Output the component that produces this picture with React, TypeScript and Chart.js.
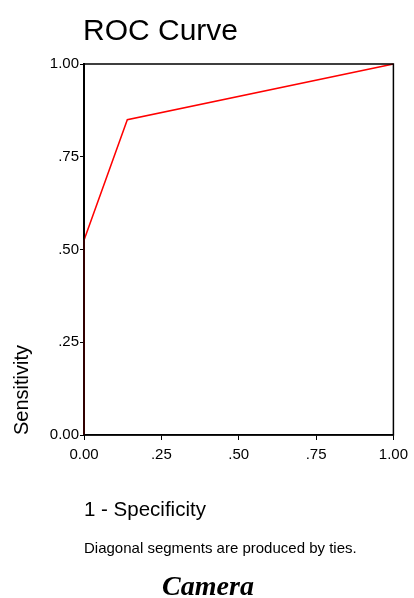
import React, { useEffect, useRef } from "react";
import { Chart, registerables } from "chart.js";

Chart.register(...registerables);

const fpr = [0, 0, 0.14, 1];
const tpr = [0, 0.525, 0.85, 1];
const tickValues = [0, 0.25, 0.5, 0.75, 1];
const tickText = ["0.00", ".25", ".50", ".75", "1.00"];

const titleText = "ROC Curve";
const yTitle = "Sensitivity";
const xTitle = "1 - Specificity";
const noteText = "Diagonal segments are produced by ties.";
const captionText = "Camera";

const SANS = '"Liberation Sans", Arial, sans-serif';

export default function App() {
  const ref = useRef<HTMLCanvasElement | null>(null);
  useEffect(() => {
    if (!ref.current) return;
    const fmt = (v: any) => {
      const i = tickValues.findIndex((t) => Math.abs(t - Number(v)) < 1e-9);
      return i >= 0 ? tickText[i] : "";
    };
    const textPlugin = {
      id: "texts",
      afterDraw(chart: any) {
        const ctx = chart.ctx;
        const a = chart.chartArea;
        ctx.save();
        ctx.strokeStyle = "#000";
        ctx.lineWidth = 1.5;
        ctx.strokeRect(a.left, a.top, a.right - a.left, a.bottom - a.top);
        ctx.fillStyle = "#000";
        ctx.textBaseline = "alphabetic";
        ctx.textAlign = "left";
        ctx.font = `30px ${SANS}`;
        ctx.fillText(titleText, a.left - 1, 40);
        ctx.font = `20.5px ${SANS}`;
        ctx.fillText(xTitle, a.left, 516);
        ctx.font = `15px ${SANS}`;
        ctx.fillText(noteText, a.left, 553);
        ctx.font = `bold italic 28px "Liberation Serif", "Times New Roman", serif`;
        ctx.textAlign = "center";
        ctx.fillText(captionText, 208, 595);
        ctx.translate(28, a.bottom);
        ctx.rotate(-Math.PI / 2);
        ctx.textAlign = "left";
        ctx.font = `20px ${SANS}`;
        ctx.fillText(yTitle, 0, 0);
        ctx.restore();
      },
    };
    const chart = new Chart(ref.current, {
      type: "line",
      data: {
        datasets: [
          {
            data: fpr.map((x, i) => ({ x, y: tpr[i] })),
            borderColor: "#ff0000",
            borderWidth: 1.5,
            pointRadius: 0,
            tension: 0,
            fill: false,
            clip: false as any,
          },
        ],
      },
      options: {
        animation: false,
        responsive: false,
        devicePixelRatio: 1,
        layout: { padding: { top: 64, right: 20, left: 0, bottom: 0 } },
        plugins: { legend: { display: false }, tooltip: { enabled: false }, title: { display: false } },
        scales: {
          x: {
            type: "linear",
            min: 0,
            max: 1,
            afterFit: (s: any) => {
              s.height = 163;
            },
            afterBuildTicks: (s: any) => {
              s.ticks = tickValues.map((v) => ({ value: v }));
            },
            ticks: {
              callback: fmt,
              color: "#000",
              font: { family: SANS, size: 15 },
              padding: 6,
              maxRotation: 0,
              autoSkip: false,
            },
            grid: { drawOnChartArea: false, drawTicks: true, tickLength: 5, color: "#000", lineWidth: 1 },
            border: { display: true, color: "#000", width: 1.5 },
          },
          y: {
            type: "linear",
            min: 0,
            max: 1,
            afterFit: (s: any) => {
              s.width = 84;
            },
            afterBuildTicks: (s: any) => {
              s.ticks = tickValues.map((v) => ({ value: v }));
            },
            ticks: {
              callback: fmt,
              color: "#000",
              font: { family: SANS, size: 15 },
              padding: 1,
              autoSkip: false,
            },
            grid: { drawOnChartArea: false, drawTicks: true, tickLength: 4, color: "#000", lineWidth: 1 },
            border: { display: true, color: "#000", width: 2 },
          },
        },
      },
      plugins: [textPlugin],
    });
    return () => chart.destroy();
  }, []);
  return (
    <div style={{ position: "fixed", left: 0, top: 0, width: 414, height: 598, background: "#fff" }}>
      <canvas ref={ref} width={414} height={598} style={{ width: 414, height: 598, display: "block" }} />
    </div>
  );
}
